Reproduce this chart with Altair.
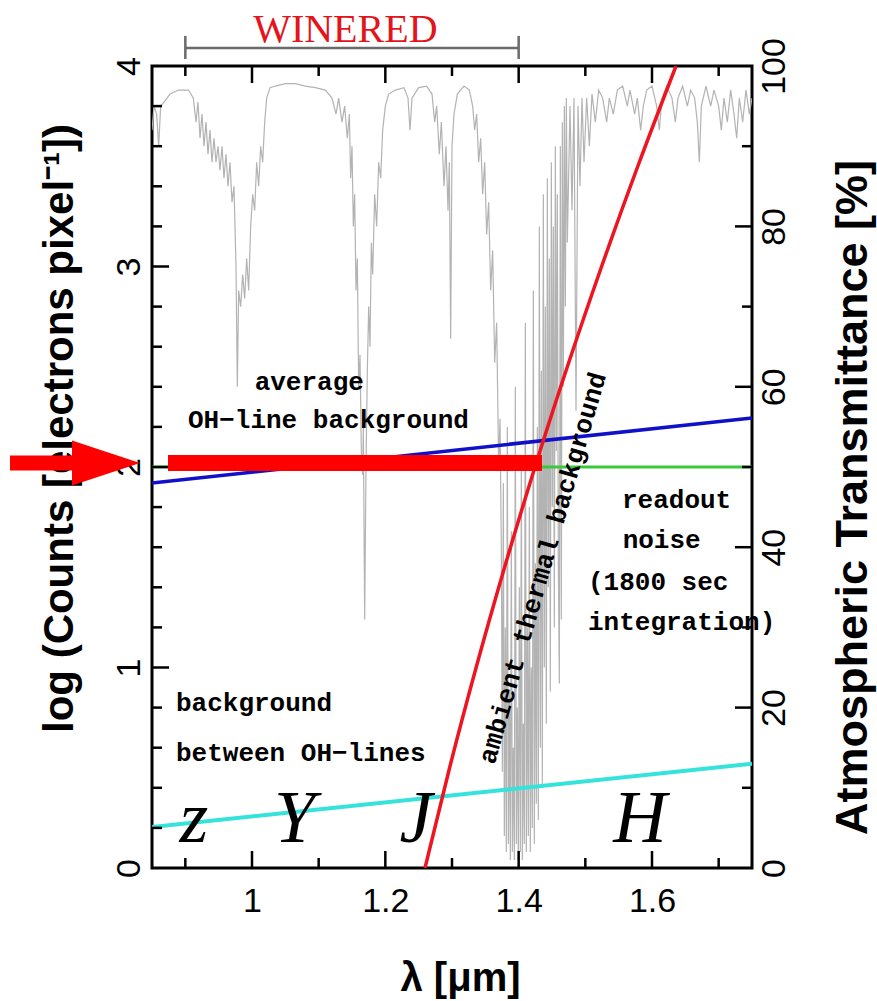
import altair as alt
import pandas as pd

# ---------------- data ----------------
# atmospheric transmittance spectrum (wavelength in micron, transmittance in %)
spec_lam = [0.850, 0.853, 0.857, 0.860, 0.863, 0.868, 0.877, 0.890, 0.905, 0.912,
            0.916, 0.919, 0.922, 0.925, 0.928, 0.931, 0.934, 0.937, 0.940, 0.943,
            0.946, 0.949, 0.952, 0.955, 0.958, 0.961, 0.964, 0.967, 0.970, 0.973,
            0.976, 0.978, 0.980, 0.983, 0.986, 0.989, 0.992, 0.995, 0.998, 1.001,
            1.004, 1.007, 1.010, 1.013, 1.016, 1.019, 1.022, 1.027, 1.035, 1.050,
            1.065, 1.080, 1.095, 1.110, 1.120, 1.126, 1.130, 1.135, 1.139, 1.143,
            1.146, 1.148, 1.150, 1.152, 1.154, 1.156, 1.158, 1.160, 1.162, 1.164,
            1.166, 1.167, 1.169, 1.171, 1.173, 1.175, 1.177, 1.179, 1.181, 1.184,
            1.187, 1.190, 1.193, 1.196, 1.200, 1.205, 1.215, 1.228, 1.234, 1.237,
            1.240, 1.250, 1.262, 1.270, 1.274, 1.277, 1.281, 1.284, 1.288, 1.291,
            1.294, 1.296, 1.298, 1.300, 1.303, 1.308, 1.318, 1.326, 1.331, 1.334,
            1.337, 1.340, 1.343, 1.346, 1.349, 1.352, 1.355, 1.358, 1.361, 1.364,
            1.367, 1.370, 1.372,
            1.3740, 1.3755, 1.3770, 1.3785, 1.3800, 1.3815, 1.3830, 1.3845, 1.3860, 1.3875,
            1.3890, 1.3905, 1.3920, 1.3935, 1.3950, 1.3965, 1.3980, 1.3995, 1.4010, 1.4025,
            1.4040, 1.4055, 1.4070, 1.4085, 1.4100, 1.4115, 1.4130, 1.4145, 1.4160, 1.4175,
            1.4190, 1.4205, 1.4220, 1.4235, 1.4250, 1.4265, 1.4280, 1.4295, 1.4310, 1.4325,
            1.4340, 1.4355, 1.4370, 1.4385, 1.4400, 1.4415, 1.4430, 1.4445, 1.4460, 1.4475,
            1.4490, 1.4505, 1.4520, 1.4535, 1.4550, 1.4565, 1.4580, 1.4595, 1.4610, 1.4625,
            1.4640, 1.4655, 1.4670, 1.4685, 1.4700, 1.4715, 1.4730,
            1.477, 1.480, 1.483, 1.486, 1.489, 1.492,
            1.495, 1.498, 1.502, 1.506, 1.510, 1.515, 1.520, 1.526, 1.532, 1.536,
            1.542, 1.548, 1.556, 1.563, 1.567, 1.574, 1.578, 1.583, 1.587, 1.592,
            1.600, 1.607, 1.611, 1.615, 1.622, 1.630, 1.635, 1.639, 1.646, 1.653,
            1.658, 1.664, 1.668, 1.671, 1.674, 1.681, 1.688, 1.693, 1.700, 1.704,
            1.708, 1.713, 1.718, 1.723, 1.727, 1.731, 1.736, 1.741, 1.746, 1.750]
spec_trans = [92, 95, 94, 90, 95, 95.5, 96.5, 97, 97, 96,
              93, 95.5, 91, 94, 90, 93, 89, 92, 88, 91,
              88, 90, 87, 90, 86, 89, 85, 88, 83, 85,
              75, 60, 72, 70, 74, 71, 76, 72, 80, 84,
              82, 88, 85, 90, 88, 93, 96, 97.3, 97.5, 97.8,
              97.8, 97.5, 97.3, 97, 96, 94, 96, 93, 95, 91,
              94, 86, 90, 80, 84, 72, 76, 60, 64, 52,
              49, 55, 31, 50, 62, 70, 65, 78, 74, 84,
              80, 88, 86, 92, 95, 96.5, 97, 97.3, 96, 92,
              96, 97.3, 97.5, 96.5, 93, 95, 89, 93, 85, 90,
              82, 88, 66, 90, 94, 96.5, 97.5, 97, 95, 92,
              94, 88, 91, 84, 88, 79, 83, 72, 77, 63,
              68, 50, 56,
              40, 12, 48, 4, 30, 2, 55, 3, 22, 1,
              42, 2, 15, 1, 60, 3, 20, 1, 35, 2,
              50, 1, 18, 3, 68, 2, 30, 4, 45, 2,
              25, 5, 72, 3, 38, 8, 55, 6, 80, 15,
              62, 10, 84, 25, 70, 18, 86, 35, 76, 22,
              88, 45, 80, 30, 90, 52, 84, 38, 23, 90,
              31, 93, 60, 95, 70, 96, 78,
              95, 82, 96, 57, 95, 85,
              96, 88, 96, 90, 96.5, 93, 97, 96, 93, 96,
              94, 97, 97.5, 95, 97, 94, 96, 92, 95, 97,
              97.5, 95, 92, 96, 97.5, 96, 93, 96, 97.5, 95,
              97, 96, 93, 88, 95, 97.5, 95, 97, 95, 92,
              96, 93, 97, 94, 91, 96, 93, 97, 94, 96]

# background levels: log counts per pixel
oh_avg_lam = [0.85, 1.75]
oh_avg_val = [1.92, 2.245]
oh_between_lam = [0.85, 1.75]
oh_between_val = [0.205, 0.52]
readout_lam = [0.85, 1.75]
readout_val = [2.0, 2.0]
thermal_lam = [1.2595, 1.2964, 1.3362, 1.3789, 1.4245, 1.4730, 1.5244, 1.5787, 1.6360]
thermal_val = [0.0, 0.5, 1.0, 1.5, 2.0, 2.5, 3.0, 3.5, 4.0]

# red highlight bar and arrow (data units)
highlight_lam = [0.874, 1.435]
highlight_val = 2.02
arrow_shaft_lam = [0.637, 0.745]
arrow_head_lam = 0.781

# WINERED coverage
winered_lam = [0.9, 1.4]
winered_val = 4.09

# annotation texts
note_text = ["average", "OH−line background", "readout", "noise", "(1800 sec",
             "integration)", "background", "between OH−lines"]
note_lam = [1.004, 0.904, 1.555, 1.556, 1.504, 1.504, 0.886, 0.886]
note_val = [2.424, 2.234, 1.835, 1.636, 1.426, 1.227, 0.823, 0.574]

band_text = ["z", "Y", "J", "H"]
band_lam = [0.913, 1.064, 1.246, 1.582]
band_val = [0.13, 0.13, 0.13, 0.13]

# axis ticks
x_major = [1.0, 1.2, 1.4, 1.6]
x_minor = [0.9, 1.1, 1.3, 1.5, 1.7]
y_major = [1, 2, 3]
y_minor = [0.2, 0.4, 0.6, 0.8, 1.2, 1.4, 1.6, 1.8, 2.2, 2.4, 2.6, 2.8, 3.2, 3.4, 3.6, 3.8]
t_major = [20, 40, 60, 80]
t_minor = [10, 30, 50, 70, 90]

# ---------------- chart ----------------
XD = [0.85, 1.75]
xs = alt.Scale(domain=XD, nice=False, zero=False)
ys = alt.Scale(domain=[0, 4], nice=False, zero=False)
ts = alt.Scale(domain=[0, 100], nice=False, zero=False)

x_axis = alt.Axis(values=x_major, format="~g", ticks=False, domain=False, grid=False,
                  labelFontSize=34, labelPadding=16, labelFlush=False, labelOverlap=False,
                  title="λ [μm]", titleFontSize=40, titleFontWeight="bold",
                  titleX=308, titleY=122, titleAlign="center", titleBaseline="alphabetic")
y_axis = alt.Axis(orient="left", values=[0, 1, 2, 3, 4], format="d", ticks=False, domain=False,
                  grid=False, labelAngle=270, labelAlign="center", labelBaseline="bottom",
                  labelPadding=6, labelFontSize=34, labelOverlap=False,
                  title="log (Counts [electrons pixel⁻¹])", titleAngle=270,
                  titleX=-80, titleY=362, titleAlign="center", titleBaseline="alphabetic",
                  titleFontSize=42, titleFontWeight="bold")
t_axis = alt.Axis(orient="right", values=[0, 20, 40, 60, 80, 100], format="d", ticks=False,
                  domain=False, grid=False, labelAngle=270, labelAlign="center",
                  labelBaseline="top", labelPadding=5, labelFontSize=34, labelOverlap=False,
                  title="Atmospheric Transmittance [%]", titleAngle=270,
                  titleX=114, titleY=431, titleAlign="center", titleBaseline="alphabetic",
                  titleFontSize=45, titleFontWeight="bold")


def X(field):
    return alt.X(field, scale=xs, axis=x_axis)


def Y(field):
    return alt.Y(field, scale=ys, axis=y_axis)


spec_df = pd.DataFrame({"lam": spec_lam, "t": spec_trans})
spectrum = alt.Chart(spec_df).mark_line(color="#b3b3b3", strokeWidth=1.2, clip=True).encode(
    x=X("lam:Q"),
    y=alt.Y("t:Q", scale=ts, axis=t_axis),
    order="lam:Q",
)


def line_layer(lams, vals, color, width):
    df = pd.DataFrame({"lam": lams, "v": vals})
    return alt.Chart(df).mark_line(color=color, strokeWidth=width, clip=True,
                                   interpolate="monotone").encode(x=X("lam:Q"), y=Y("v:Q"))


green = line_layer(readout_lam, readout_val, "#3cc83c", 3)
blue = line_layer(oh_avg_lam, oh_avg_val, "#1010c8", 3.5)
cyan = line_layer(oh_between_lam, oh_between_val, "#35e3dc", 4)
red = line_layer(thermal_lam, thermal_val, "#ee1420", 3.5)

# inward ticks on all four sides
LX_MAJ, LX_MIN = 17 / 666.67, 10 / 666.67
LY_MAJ, LY_MIN = 17 / 200.5, 10 / 200.5
rows = []
for v in x_major:
    rows += [(v, v, 0, LY_MAJ), (v, v, 4, 4 - LY_MAJ)]
for v in x_minor:
    rows += [(v, v, 0, LY_MIN), (v, v, 4, 4 - LY_MIN)]
for v in y_major:
    rows += [(XD[0], XD[0] + LX_MAJ, v, v)]
for v in y_minor:
    rows += [(XD[0], XD[0] + LX_MIN, v, v)]
for v in t_major:
    rows += [(XD[1], XD[1] - LX_MAJ, v / 25, v / 25)]
for v in t_minor:
    rows += [(XD[1], XD[1] - LX_MIN, v / 25, v / 25)]
tick_df = pd.DataFrame(rows, columns=["x1", "x2", "y1", "y2"])
ticks = alt.Chart(tick_df).mark_rule(color="black", strokeWidth=2.5, strokeCap="butt").encode(
    x=X("x1:Q"), x2="x2:Q", y=Y("y1:Q"), y2="y2:Q")

# red highlight bar
hb_df = pd.DataFrame({"a": [highlight_lam[0]], "b": [highlight_lam[1]], "v": [highlight_val]})
hbar = alt.Chart(hb_df).mark_rule(color="#ff0000", strokeWidth=16, strokeCap="butt").encode(
    x=X("a:Q"), x2="b:Q", y=Y("v:Q"))

# arrow outside plot
as_df = pd.DataFrame({"a": [arrow_shaft_lam[0]], "b": [arrow_shaft_lam[1]], "v": [highlight_val]})
ashaft = alt.Chart(as_df).mark_rule(color="#ff0000", strokeWidth=15, strokeCap="butt",
                                    clip=False).encode(x=X("a:Q"), x2="b:Q", y=Y("v:Q"))
ah_df = pd.DataFrame({"a": [arrow_head_lam], "v": [highlight_val]})
ahead = alt.Chart(ah_df).mark_point(shape="M-1,-0.662L1,0L-1,0.662Z", size=4624, filled=True,
                                    color="#ff0000", opacity=1, strokeWidth=0,
                                    clip=False).encode(x=X("a:Q"), y=Y("v:Q"))

# annotations
note_df = pd.DataFrame({"text": note_text, "lam": note_lam, "v": note_val})
notes = alt.Chart(note_df).mark_text(font="Liberation Mono", fontWeight="bold", fontSize=26,
                                     align="left", baseline="middle", color="black").encode(
    x=X("lam:Q"), y=Y("v:Q"), text="text:N")

amb_df = pd.DataFrame({"text": ["ambient thermal background"], "lam": [1.436], "v": [1.496]})
amb = alt.Chart(amb_df).mark_text(font="Liberation Mono", fontWeight="bold", fontSize=26,
                                  align="center", baseline="middle", angle=286,
                                  color="black").encode(x=X("lam:Q"), y=Y("v:Q"), text="text:N")

band_df = pd.DataFrame({"text": band_text, "lam": band_lam, "v": band_val})
bands = alt.Chart(band_df).mark_text(font="Liberation Serif", fontStyle="italic", fontSize=74,
                                     align="center", baseline="alphabetic", color="black").encode(
    x=X("lam:Q"), y=Y("v:Q"), text="text:N")

# WINERED range marker
wb_df = pd.DataFrame({"a": [winered_lam[0]], "b": [winered_lam[1]], "v": [winered_val]})
wbar = alt.Chart(wb_df).mark_rule(color="#6a6a6a", strokeWidth=2.5, clip=False).encode(
    x=X("a:Q"), x2="b:Q", y=Y("v:Q"))
wc_df = pd.DataFrame({"a": winered_lam, "v1": [4.035, 4.035], "v2": [4.15, 4.15]})
wcaps = alt.Chart(wc_df).mark_rule(color="#6a6a6a", strokeWidth=2.5, clip=False).encode(
    x=X("a:Q"), y=Y("v1:Q"), y2="v2:Q")
wt_df = pd.DataFrame({"text": ["WINERED"], "lam": [1.14], "v": [4.12]})
wtext = alt.Chart(wt_df).mark_text(font="Liberation Serif", fontSize=40, color="#e3141c",
                                   align="center", baseline="alphabetic", clip=False).encode(
    x=X("lam:Q"), y=Y("v:Q"), text="text:N")

inner = alt.layer(green, blue, cyan, red, ticks, hbar, ashaft, ahead, notes, amb, bands,
                  wbar, wcaps, wtext)

chart = alt.layer(spectrum, inner).resolve_scale(y="independent").properties(
    width=600, height=802,
    padding={"left": 152, "top": 66, "right": 125, "bottom": 133},
    autosize=alt.AutoSizeParams(type="none"),
    background="white",
).configure_view(stroke="black", strokeWidth=3).configure_axis(
    labelFont="Liberation Sans", titleFont="Liberation Sans",
    labelColor="black", titleColor="black")

chart.save("out.html", embed_options={"renderer": "svg", "actions": False})
